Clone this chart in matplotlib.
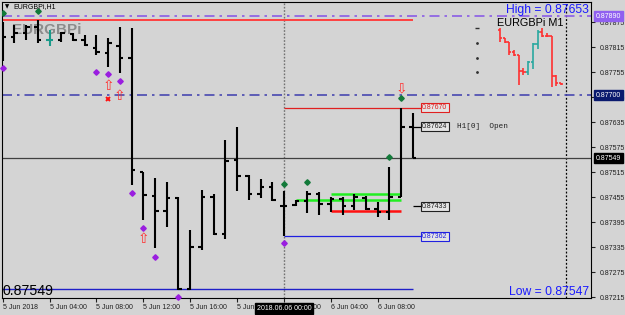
import numpy as np
import matplotlib
matplotlib.use('Agg')
import matplotlib.pyplot as plt
import matplotlib.transforms as mtransforms

# EURGBPi H1 bars, 5 Jun 2018 00:00 .. 6 Jun 2018 11:00 (one per hour)
opens = [0.87852, 0.87840, 0.87849, 0.87864, 0.87833, 0.87833, 0.87847, 0.87833,
         0.87813, 0.87801, 0.87818, 0.87789, 0.87516, 0.87458, 0.87422, 0.87453,
         0.87235, 0.87336, 0.87456, 0.87367, 0.87545, 0.87506, 0.87463, 0.87480,
         0.87434, 0.87437, 0.87446, 0.87463, 0.87439, 0.87451, 0.87434, 0.87453,
         0.87427, 0.87420, 0.87456, 0.87624]
highs = [0.87876, 0.87869, 0.87869, 0.87881, 0.87857, 0.87852, 0.87849, 0.87845,
         0.87845, 0.87837, 0.87864, 0.87861, 0.87516, 0.87501, 0.87492, 0.87456,
         0.87377, 0.87473, 0.87463, 0.87593, 0.87624, 0.87509, 0.87499, 0.87492,
         0.87470, 0.87449, 0.87470, 0.87468, 0.87456, 0.87456, 0.87463, 0.87458,
         0.87444, 0.87528, 0.87670, 0.87657]
lows = [0.87782, 0.87825, 0.87833, 0.87825, 0.87818, 0.87828, 0.87830, 0.87818,
        0.87797, 0.87768, 0.87753, 0.87485, 0.87401, 0.87333, 0.87384, 0.87233,
        0.87233, 0.87329, 0.87365, 0.87355, 0.87470, 0.87449, 0.87453, 0.87446,
        0.87362, 0.87434, 0.87417, 0.87413, 0.87420, 0.87413, 0.87425, 0.87425,
        0.87408, 0.87401, 0.87456, 0.87549]
closes = [0.87840, 0.87849, 0.87864, 0.87833, 0.87833, 0.87849, 0.87833, 0.87821,
          0.87804, 0.87825, 0.87789, 0.87521, 0.87461, 0.87422, 0.87453, 0.87235,
          0.87336, 0.87456, 0.87367, 0.87542, 0.87506, 0.87463, 0.87480, 0.87449,
          0.87434, 0.87446, 0.87463, 0.87439, 0.87451, 0.87434, 0.87456, 0.87427,
          0.87420, 0.87456, 0.87624, 0.87549]
highlight_bar = 4

xtick_pos = [0, 4, 8, 12, 16, 20, 24, 28, 32]
xtick_labels = ['5 Jun 2018', '5 Jun 04:00', '5 Jun 08:00', '5 Jun 12:00', '5 Jun 16:00',
                '5 Jun 20:00', '6 Jun 00:00', '6 Jun 04:00', '6 Jun 08:00']
ytick_vals = [0.87215, 0.87275, 0.87335, 0.87395, 0.87455, 0.87515,
              0.87575, 0.87635, 0.87695, 0.87755, 0.87815, 0.87875]

# levels
level_purple = 0.87890
level_red_top = 0.87881
level_blue = 0.87700
bid = 0.87549
day_high = 0.87670
day_open = 0.87624
level_433 = 0.87433
day_low = 0.87362
low_line = 0.87234
box_top, box_mid, box_bot = 0.87463, 0.87449, 0.87422

# signal markers (bar index, price)
purple_x = [0, 8, 9, 10, 11, 12, 13, 15, 24]
purple_y = [0.87765, 0.87755, 0.87750, 0.87733, 0.87465, 0.87381, 0.87312, 0.87216, 0.87345]
green_x = [0, 3, 24, 26, 33, 34]
green_y = [0.87898, 0.87902, 0.87487, 0.87492, 0.87551, 0.87693]
up_arrow_x = [9, 10, 12]
up_arrow_y = [0.87723, 0.87699, 0.87355]
down_arrow_x = [34]
down_arrow_y = [0.87717]
cross_x = [9]
cross_y = [0.87692]

# M1 mini chart
m1_open = [0.87649, 0.87635, 0.87628, 0.87610, 0.87604, 0.87576, 0.87574,
           0.87592, 0.87624, 0.87646, 0.87639, 0.87639, 0.87567, 0.87554]
m1_high = [0.87653, 0.87635, 0.87628, 0.87613, 0.87604, 0.87581, 0.87594,
           0.87626, 0.87649, 0.87653, 0.87644, 0.87639, 0.87569, 0.87554]
m1_low = [0.87628, 0.87626, 0.87604, 0.87603, 0.87551, 0.87569, 0.87569,
          0.87579, 0.87615, 0.87637, 0.87637, 0.87547, 0.87549, 0.87551]
m1_close = [0.87635, 0.87628, 0.87610, 0.87604, 0.87576, 0.87574, 0.87592,
            0.87624, 0.87646, 0.87639, 0.87639, 0.87567, 0.87554, 0.87552]
m1_marks = [0.87626, 0.87599, 0.87574]
m1_hi, m1_lo = 0.87653, 0.87547

BG = '#d4d4d4'
W, H = 625, 315
fig = plt.figure(figsize=(W / 100, H / 100), dpi=100, facecolor=BG)
ax = fig.add_axes([2 / W, (H - 298) / H, 589 / W, 296 / H])
ax.set_facecolor(BG)
ax.set_xlim(-0.06, 50.2)
ax.set_ylim(0.872133, 0.879237)
for s in ax.spines.values():
    s.set_color('black')
    s.set_linewidth(0.8)

# watermark behind everything
ax.text(0.017, 0.905, 'EURGBPi', transform=ax.transAxes, color='#8c8c8c', fontsize=11,
        fontweight='bold', family=['Liberation Sans Narrow', 'Liberation Sans'],
        ha='left', va='center', zorder=0)

# bars
idx = np.arange(len(opens))
cols = ['#1a9a8a' if i == highlight_bar else 'black' for i in idx]
ax.vlines(idx, lows, highs, colors=cols, lw=1.5, zorder=5)
ax.hlines(opens, idx - 0.3, idx, colors=cols, lw=1.5, zorder=5)
ax.hlines(closes, idx, idx + 0.3, colors=cols, lw=1.5, zorder=5)

# lines
ax.axhline(level_purple, color='#8a5ce6', lw=1.2, ls=(0, (6, 3, 1.5, 3)), zorder=2)
ax.axhline(level_blue, color='#4848b0', lw=1.2, ls=(0, (6, 3, 1.5, 3)), zorder=2)
ax.axhline(bid, color='#404040', lw=0.9, zorder=2)
ax.hlines(level_red_top, -0.06, 35, color='#ff4040', lw=1.4, zorder=2)
ax.hlines(low_line, -0.06, 35, color='#2020c8', lw=1.0, zorder=2)
ax.axvline(24, color='#707070', lw=1.0, ls=(0, (1.2, 1.2)), zorder=1)
ax.axvline(48.04, color='black', lw=0.9, ls=(0, (1.5, 1.5)), zorder=1)

lab_x = 35.7
ax.hlines(day_high, 24, lab_x, color='#e02020', lw=0.9, zorder=3)
ax.hlines(day_low, 24, lab_x, color='#2020e0', lw=0.9, zorder=3)
ax.hlines([day_open, level_433], 35, lab_x, color='black', lw=0.9, zorder=3)
ax.hlines(box_top, 28, 34, color='#22ee22', lw=1.8, zorder=4)
ax.hlines(box_mid, 25, 34, color='#22ee22', lw=1.8, zorder=4)
ax.hlines(box_bot, 28, 34, color='#ff1010', lw=1.8, zorder=4)

# markers
ax.plot(purple_x, purple_y, 'D', ms=2.8, color='#9a1ee0', zorder=6, clip_on=False)
ax.plot(green_x, green_y, 'D', ms=2.8, color='#137a3a', zorder=6)
ax.plot(cross_x, cross_y, 'x', ms=3.5, mew=1.4, color='#ff1010', zorder=6)
for x, y in zip(up_arrow_x, up_arrow_y):
    ax.text(x, y, '\u21e7', color='#ff3030', fontsize=10, ha='center', va='center', zorder=6)
for x, y in zip(down_arrow_x, down_arrow_y):
    ax.text(x, y, '\u21e9', color='#ff3030', fontsize=10, ha='center', va='center', zorder=6)

# price labels inside chart
for val, col in [(day_high, '#e02020'), (day_open, '#202020'), (level_433, '#202020'), (day_low, '#2020e0')]:
    ax.text(lab_x + 0.1, val, f'{val:.5f}', color=col, fontsize=5, family='Liberation Sans',
            ha='left', va='center', zorder=7,
            bbox=dict(boxstyle='square,pad=0.15', fc='#e4e4e4', ec=col, lw=0.8))
ax.text(38.8, day_open, 'H1[0]  Open', fontsize=5.5, family='Liberation Mono',
        color='#202020', ha='left', va='center')

# axes ticks
ax.yaxis.tick_right()
ax.set_yticks(ytick_vals)
ax.set_yticklabels([f'{v:.5f}' for v in ytick_vals], family='Liberation Sans', fontsize=5)
ax.tick_params(axis='y', length=3, width=0.8, pad=3, colors='#202020')
ax.set_xticks(xtick_pos)
ax.set_xticklabels(xtick_labels, family='Liberation Sans', fontsize=5)
ax.tick_params(axis='x', length=3, width=0.8, pad=1.5, colors='#202020')
for t in ax.get_xticklabels():
    t.set_ha('left')

# axis price boxes
trans = mtransforms.blended_transform_factory(ax.transAxes, ax.transData)
for val, fc in [(level_purple, '#9060f0'), (level_blue, '#0a1a6e'), (bid, 'black')]:
    ax.text(1.008, val, f'{val:.5f}', transform=trans, color='white', fontsize=5,
            family='Liberation Sans', ha='left', va='center', clip_on=False, zorder=10,
            bbox=dict(boxstyle='square,pad=0.25', fc=fc, ec=fc))
transx = mtransforms.blended_transform_factory(ax.transData, ax.transAxes)
ax.text(24, -0.035, '2018.06.06 00:00', transform=transx, color='white', fontsize=5,
        family='Liberation Sans', ha='center', va='center', clip_on=False, zorder=10,
        bbox=dict(boxstyle='square,pad=0.3', fc='black', ec='black'))

# M1 mini chart
ax2 = fig.add_axes([470 / W, (H - 87) / H, 98 / W, 59 / H])
ax2.set_xlim(-6.4, 14.5)
ax2.set_ylim(m1_lo, m1_hi)
ax2.axis('off')
ax2.patch.set_alpha(0)
mi = np.arange(len(m1_open))
mcols = ['#2aa8a0' if c > o else '#ff3030' for o, c in zip(m1_open, m1_close)]
ax2.vlines(mi, m1_low, m1_high, colors=mcols, lw=1.2, clip_on=False)
ax2.hlines(m1_open, mi - 0.45, mi, colors=mcols, lw=1.2, clip_on=False)
ax2.hlines(m1_close, mi, mi + 0.45, colors=mcols, lw=1.2, clip_on=False)
ax2.plot([-4.9], [m1_hi], marker='_', ms=3, color='#303030', clip_on=False)
ax2.plot([-4.9] * len(m1_marks), m1_marks, 'o', ms=1, color='#303030', clip_on=False)

# overlay texts
fig.text(589 / W, 1 - 10 / H, f'High = {m1_hi:.5f}', color='#1a1aff', fontsize=8.7,
         family='Liberation Sans', ha='right', va='center')
fig.text(589 / W, 1 - 292 / H, f'Low = {m1_lo:.5f}', color='#1a1aff', fontsize=8.7,
         family='Liberation Sans', ha='right', va='center')
fig.text(530 / W, 1 - 23 / H, 'EURGBPi M1', color='black', fontsize=7.8,
         family='Liberation Sans', ha='center', va='center')
fig.text(3 / W, 1 - 291 / H, f'{bid:.5f}', color='black', fontsize=10.2,
         family='Liberation Sans', ha='left', va='center')
fig.text(5 / W, 1 - 7 / H, '\u25bc', color='black', fontsize=4, ha='left', va='center')
fig.text(13 / W, 1 - 7 / H, 'EURGBPi,H1', color='black', fontsize=5,
         family='Liberation Sans', ha='left', va='center')

fig.savefig('out.png', dpi=100, facecolor=BG)
